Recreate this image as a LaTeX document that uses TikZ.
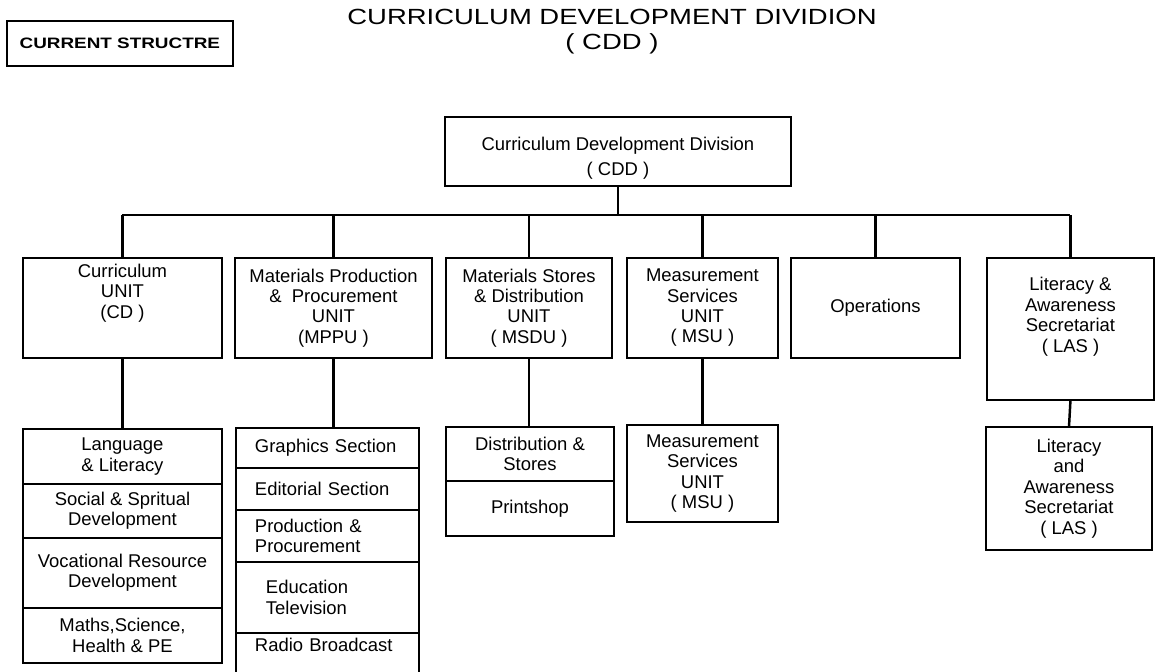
\documentclass[tikz,border=0pt]{standalone}
\usepackage{fontspec}
\setmainfont{Liberation Sans}
\newfontfamily\titlefont{Liberation Sans}[FakeStretch=1.25]
\usetikzlibrary{positioning}
\tikzset{
  unitbox/.style={draw, rectangle, line width=1pt, align=center, inner sep=1pt, outer sep=0pt, anchor=north west, font=\fontsize{10.5}{11.6}\selectfont},
  cell/.style={unitbox, anchor=north},
  leftcell/.style={cell, align=left, text width=2.9cm, inner xsep=0.38cm, minimum width=3.66cm},
  link/.style={line width=1.4pt}
}

\begin{document}
\begin{tikzpicture}[x=0.02cm, y=-0.02cm]
        \useasboundingbox (0,0) rectangle (1157,672);
        % Heading
        \node[draw, line width=1pt, minimum width=4.52cm, minimum height=0.9cm, anchor=north west, font={\titlefont\fontsize{8.6}{10}\selectfont\bfseries}] (current) at (6,20) {CURRENT STRUCTRE};
        \node[anchor=base, font={\titlefont\fontsize{12.5}{14}\selectfont}] (title) at (612,25) {CURRICULUM DEVELOPMENT DIVIDION};
        \node[anchor=base, font={\titlefont\fontsize{12.5}{14}\selectfont}] (titlecdd) at (612,49.5) {( CDD )};

        % Division and units
        \node[unitbox, minimum width=6.92cm, minimum height=1.38cm, font=\fontsize{10.5}{14.5}\selectfont] (cdd) at (445,117) {\rule{0pt}{15pt}Curriculum Development Division\\( CDD )};

        \node[unitbox, minimum width=3.98cm, minimum height=2cm] (cd) at (23,258) {Curriculum\\UNIT\\(CD )\\\rule{0pt}{16pt}};
        \node[unitbox, minimum width=3.94cm, minimum height=2cm] (mppu) at (235,258) {Materials Production\\\&~~Procurement\\UNIT\\(MPPU )};
        \node[unitbox, minimum width=3.32cm, minimum height=2cm] (msdu) at (446,258) {Materials Stores\\\& Distribution\\UNIT\\( MSDU )};
        \node[unitbox, minimum width=3.02cm, minimum height=2cm] (msu) at (627,258) {Measurement\\Services\\UNIT\\( MSU )};
        \node[unitbox, minimum width=3.38cm, minimum height=2cm] (ops) at (791,258) {Operations};
        \node[unitbox, minimum width=3.34cm, minimum height=2.84cm] (las) at (987,258) {Literacy \&\\Awareness\\Secretariat\\( LAS )\\\rule{0pt}{13pt}};

        % Sections under each unit
        \node[unitbox, minimum width=3.98cm, minimum height=1.10cm] (lang) at (23,429) {Language\\\& Literacy};
        \node[cell, minimum width=3.98cm, minimum height=1.08cm, below=0pt of lang] (social) {Social \& Spritual\\Development};
        \node[cell, minimum width=3.98cm, minimum height=1.40cm, below=0pt of social] (vocat) {Vocational Resource\\Development};
        \node[cell, minimum width=3.98cm, minimum height=1.10cm, below=0pt of vocat] (maths) {Maths,Science,\\Health \& PE};

        \node[leftcell, anchor=north west, minimum height=0.80cm] (graph) at (236,428) {Graphics Section};
        \node[leftcell, minimum height=0.84cm, below=0pt of graph] (edit) {Editorial Section};
        \node[leftcell, minimum height=1.04cm, below=0pt of edit] (prod) {Production \&\\Procurement};
        \node[leftcell, text width=2.46cm, inner xsep=0.6cm, minimum height=1.42cm, below=0pt of prod] (edtv) {Education\\Television};
        \node[leftcell, minimum height=0.94cm, below=0pt of edtv] (radio) {Radio Broadcast\\\rule{0pt}{12pt}};

        \node[unitbox, minimum width=3.36cm, minimum height=1.08cm] (dist) at (446,427) {Distribution \&\\Stores};
        \node[cell, minimum width=3.36cm, minimum height=1.10cm, below=0pt of dist] (print) {Printshop};

        \node[unitbox, minimum width=3.02cm, minimum height=1.94cm] (msulow) at (627,425) {Measurement\\Services\\UNIT\\( MSU )};
        \node[unitbox, minimum width=3.32cm, minimum height=2.46cm] (laslow) at (986,427) {Literacy\\and\\Awareness\\Secretariat\\( LAS )};

        % Connections
        \coordinate (bar) at (0,215);
        \draw[link] (cdd.south) -- (cdd.south |- bar);
        \draw[link] (cd.north |- bar) -- (las.north |- bar);
        \foreach \u in {cd,mppu,msdu,msu,ops,las}
            \draw[link] (\u.north) -- (\u.north |- bar);

        \draw[link] (cd.south) -- (lang.north);
        \draw[link] (mppu.south) -- (mppu.south |- graph.north);
        \draw[link] (msdu.south) -- (msdu.south |- dist.north);
        \draw[link] (msu.south) -- (msulow.north);
        \draw[link] (las.south) -- (laslow.north);
\end{tikzpicture}
\end{document}
